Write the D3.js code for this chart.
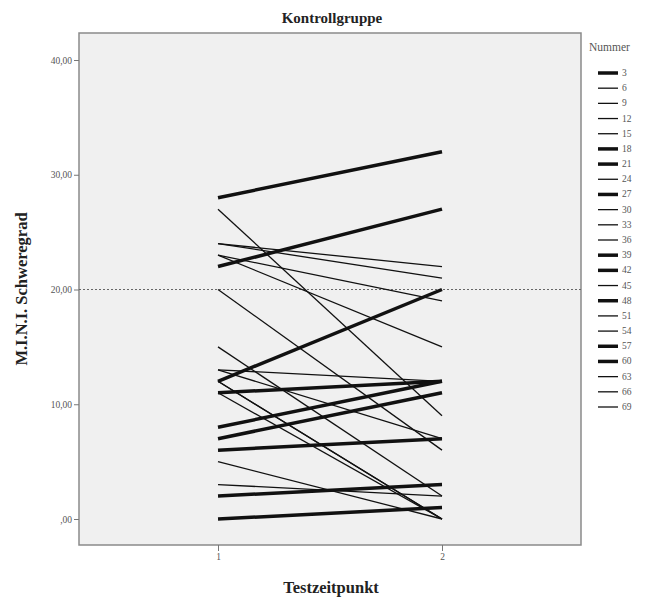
<!DOCTYPE html>
<html>
<head>
<meta charset="utf-8">
<script src="https://cdn.jsdelivr.net/npm/d3@7/dist/d3.min.js"></script>
<style>
  html, body { margin: 0; padding: 0; background: #fff; }
  svg text { font-family: "Liberation Serif", "DejaVu Serif", serif; }
</style>
</head>
<body>
<svg id="chart" width="649" height="599"></svg>
<script>
// Patient numbers (legend order)
const nummer = [3, 6, 9, 12, 15, 18, 21, 24, 27, 30, 33, 36, 39, 42, 45, 48, 51, 54, 57, 60, 63, 66, 69];
// M.I.N.I. severity at test point 1 and 2
const wert1 = [28, 24, 24, 23, 23, 22, 12, 27, 11, 20, 15, 13, 8, 7, 13, 6, 12, 11, 2, 0, 5, 3, 12];
const wert2 = [32, 22, 21, 19, 15, 27, 20, 9, 12, 6, 2, 12, 12, 11, 7, 7, 0, 0, 3, 1, 0, 2, 0];
// Thick line for these patients
const dick = [true, false, false, false, false, true, true, false, true, false, false, false, true, true, false, true, false, false, true, true, false, false, false];
const testpunkte = [1, 2];
const yTicks = [0, 10, 20, 30, 40];
const referenzwert = 20;

const svg = d3.select("#chart");
const plot = { left: 79, top: 33, right: 581, bottom: 545 };

const x = d3.scaleLinear().domain([1, 2]).range([218, 442]);
const y = d3.scaleLinear().domain([0, 40]).range([519, 60]);

const fmt = v => (v === 0 ? ",00" : d3.format(".2f")(v).replace(".", ","));

// plot background
svg.append("rect")
  .attr("x", plot.left).attr("y", plot.top)
  .attr("width", plot.right - plot.left).attr("height", plot.bottom - plot.top)
  .attr("fill", "#f0f0f0").attr("stroke", "#8a8a8a").attr("stroke-width", 1.5);

// reference line
svg.append("line")
  .attr("x1", plot.left).attr("x2", plot.right)
  .attr("y1", y(referenzwert)).attr("y2", y(referenzwert))
  .attr("stroke", "#666").attr("stroke-width", 1).attr("stroke-dasharray", "2,2");

// y axis
const yAxis = d3.axisLeft(y).tickValues(yTicks).tickFormat(fmt).tickSize(5).tickPadding(2);
const gy = svg.append("g").attr("transform", `translate(${plot.left},0)`).call(yAxis);
gy.select(".domain").remove();
gy.selectAll(".tick line").attr("stroke", "#777");
gy.selectAll(".tick text").attr("fill", "#555").style("font-size", "9.5px")
  .style("font-family", "'Liberation Serif', serif");

// x axis
const xAxis = d3.axisBottom(x).tickValues(testpunkte).tickFormat(d3.format("d")).tickSize(6).tickPadding(2);
const gx = svg.append("g").attr("transform", `translate(0,${plot.bottom})`).call(xAxis);
gx.select(".domain").remove();
gx.selectAll(".tick line").attr("stroke", "#777");
gx.selectAll(".tick text").attr("fill", "#555").style("font-size", "9.5px")
  .style("font-family", "'Liberation Serif', serif");

// patient lines
const daten = nummer.map((n, i) => ({ n, werte: [wert1[i], wert2[i]], dick: dick[i] }));
const linie = d3.line().x((d, i) => x(testpunkte[i])).y(d => y(d));
svg.append("g").selectAll("path").data(daten).join("path")
  .attr("d", d => linie(d.werte))
  .attr("fill", "none").attr("stroke", "#111")
  .attr("stroke-width", d => d.dick ? 3.5 : 1.3);

// titles
svg.append("text").attr("x", 332).attr("y", 23).attr("text-anchor", "middle")
  .style("font-size", "15px").style("font-weight", "bold").attr("fill", "#222")
  .text("Kontrollgruppe");
svg.append("text").attr("x", 331).attr("y", 593).attr("text-anchor", "middle")
  .style("font-size", "16.5px").style("font-weight", "bold").attr("fill", "#222")
  .text("Testzeitpunkt");
svg.append("text").attr("transform", `translate(27,${(plot.top + plot.bottom) / 2}) rotate(-90)`)
  .attr("text-anchor", "middle")
  .style("font-size", "16.5px").style("font-weight", "bold").attr("fill", "#222")
  .text("M.I.N.I. Schweregrad");

// legend
const leg = svg.append("g");
leg.append("text").attr("x", 589).attr("y", 51).style("font-size", "11.5px").attr("fill", "#555").text("Nummer");
const ly = d3.scaleLinear().domain([0, nummer.length - 1]).range([73, 407]);
const item = leg.selectAll("g.item").data(daten).join("g").attr("class", "item")
  .attr("transform", (d, i) => `translate(0,${ly(i)})`);
item.append("line").attr("x1", 598).attr("x2", 618)
  .attr("stroke", "#111").attr("stroke-width", d => d.dick ? 3.5 : 1.3);
item.append("text").attr("x", 622).attr("y", 3).style("font-size", "9.5px").attr("fill", "#555")
  .text(d => d.n);
</script>
</body>
</html>
